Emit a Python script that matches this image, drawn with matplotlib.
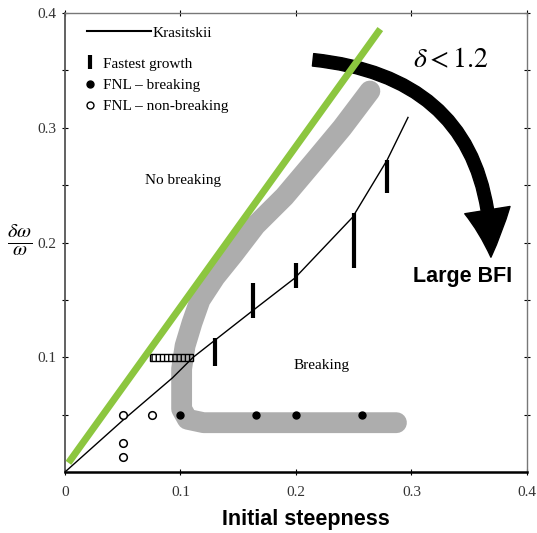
import numpy as np
import matplotlib
matplotlib.use("Agg")
import matplotlib.pyplot as plt
from matplotlib.lines import Line2D

plt.rcParams['font.family'] = ['Liberation Serif', 'DejaVu Serif']
plt.rcParams['mathtext.fontset'] = 'stix'

# Krasitskii curve
kras_x = [0, 0.05, 0.093, 0.111, 0.13, 0.163, 0.199, 0.249, 0.279, 0.297]
kras_y = [0, 0.045, 0.082, 0.100, 0.115, 0.141, 0.169, 0.222, 0.272, 0.309]

# fastest growth bars
fg_x = [0.13, 0.163, 0.2, 0.25, 0.279]
fg_lo = [0.092, 0.134, 0.160, 0.178, 0.243]
fg_hi = [0.117, 0.165, 0.182, 0.226, 0.272]

# hatched fastest-growth range at delta_omega/omega = 0.1
hatch_left, hatch_right, hatch_y = 0.074, 0.111, 0.1

# FNL results
fnl_break_x = [0.1, 0.165, 0.2, 0.257]
fnl_break_y = [0.05, 0.05, 0.05, 0.05]
fnl_nobreak_x = [0.05, 0.075, 0.05, 0.05]
fnl_nobreak_y = [0.05, 0.05, 0.025, 0.013]

# grey breaking boundary band
band_x = [0.287, 0.12, 0.106, 0.101, 0.101, 0.104, 0.11, 0.117, 0.13, 0.146,
          0.165, 0.19, 0.216, 0.24, 0.264]
band_y = [0.043, 0.043, 0.046, 0.055, 0.09, 0.11, 0.13, 0.15, 0.17, 0.19,
          0.215, 0.24, 0.271, 0.30, 0.332]

# green limit line
green_x = [0.003, 0.273]
green_y = [0.008, 0.386]

fig = plt.figure(figsize=(5.37, 5.33), dpi=100)
ax = fig.add_axes([0.121, 0.1144, 0.8603, 0.8612])

ax.plot(band_x, band_y, color='#adadad', lw=15, solid_capstyle='round',
        solid_joinstyle='round', zorder=1)
ax.plot(kras_x, kras_y, color='black', lw=1.0, zorder=3)
ax.vlines(fg_x, fg_lo, fg_hi, color='black', lw=3, zorder=4)
ax.barh(hatch_y, hatch_right - hatch_left, left=hatch_left, height=0.006,
        fill=False, hatch='||||', edgecolor='black', lw=1, zorder=3)
ax.plot(fnl_break_x, fnl_break_y, 'o', color='black', ms=5, zorder=4)
ax.plot(fnl_nobreak_x, fnl_nobreak_y, 'o', mfc='white', mec='black',
        mew=1.1, ms=5.5, zorder=4)

# curved arrow
ax.annotate('', xy=(0.922, 0.468), xytext=(0.537, 0.898),
            xycoords='axes fraction', textcoords='axes fraction',
            arrowprops=dict(arrowstyle='simple,head_length=1.7,head_width=1.65,tail_width=0.45',
                            mutation_scale=20, color='black', shrinkA=0, shrinkB=0,
                            connectionstyle='arc3,rad=-0.45'), zorder=5)

ax.plot(green_x, green_y, color='#8cc63f', lw=5, solid_capstyle='butt', zorder=6)

ax.text(0.836, 0.895, r'$\delta<1.2$', transform=ax.transAxes, fontsize=20,
        ha='center', va='center')
ax.text(0.861, 0.425, 'Large BFI', transform=ax.transAxes, fontsize=15.5,
        family='Liberation Sans', weight='bold', ha='center', va='center')
ax.text(0.102, 0.254, 'No breaking', fontsize=11, ha='center', va='center')
ax.text(0.222, 0.093, 'Breaking', fontsize=11, ha='center', va='center')

# legends
leg1 = ax.legend([Line2D([], [], color='black', lw=1.5)], ['Krasitskii'],
                 loc='upper left', bbox_to_anchor=(0.047, 0.972), frameon=False,
                 fontsize=11, handlelength=4.2, handletextpad=0.1,
                 borderpad=0, borderaxespad=0)
ax.add_artist(leg1)
handles = [Line2D([], [], ls='none', marker='|', color='black', ms=10, mew=3),
           Line2D([], [], ls='none', marker='o', color='black', ms=5),
           Line2D([], [], ls='none', marker='o', mfc='white', mec='black', ms=5)]
ax.legend(handles, ['Fastest growth', 'FNL \u2013 breaking', 'FNL \u2013 non-breaking'],
          loc='upper left', bbox_to_anchor=(0.04, 0.904), frameon=False,
          fontsize=11, handlelength=0.8, handletextpad=0.5, labelspacing=0.5,
          borderpad=0, borderaxespad=0)

ax.set_xlim(0, 0.4)
ax.set_ylim(0, 0.4)
ax.set_xticks([0, 0.1, 0.2, 0.3, 0.4])
ax.set_yticks([0.1, 0.2, 0.3, 0.4])
ax.set_xticklabels(['0', '0.1', '0.2', '0.3', '0.4'])
ax.set_yticklabels(['0.1', '0.2', '0.3', '0.4'])
ax.set_yticks([0.05, 0.15, 0.25, 0.35], minor=True)
ax.tick_params(which='both', direction='inout', length=4, width=0.8,
               labelsize=11, labelcolor='#333333', right=True, top=True)
ax.tick_params(axis='x', pad=8)
ax.tick_params(axis='y', pad=4)
for side in ['top', 'right']:
    ax.spines[side].set_color('#777777')
    ax.spines[side].set_linewidth(1)
ax.spines['bottom'].set_linewidth(1.8)
ax.spines['left'].set_linewidth(1.3)
ax.spines['left'].set_color('#555555')

fig.text(0.036, 0.55, r'$\frac{\delta\omega}{\omega}$', fontsize=21,
         ha='center', va='center')
fig.text(0.570, 0.0244, 'Initial steepness', fontsize=15.5,
         family='Liberation Sans', weight='bold', ha='center', va='center')

fig.savefig('out.png', dpi=100)
